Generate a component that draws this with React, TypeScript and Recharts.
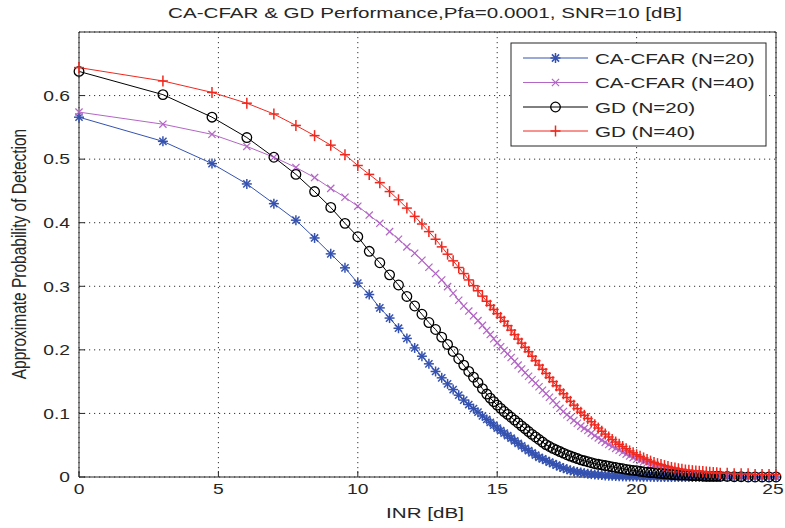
import { CartesianGrid, Line, LineChart, XAxis, YAxis } from "recharts";

// INR grid in dB (markers get denser towards the right like the original)
const inrDb = [
  0, 3.01, 4.77, 6.02, 6.99, 7.78, 8.45, 9.03, 9.54, 10, 10.41, 10.79, 11.14, 11.46, 11.76, 12.04, 12.3, 12.55, 12.79, 13.01,
  13.22, 13.42, 13.62, 13.8, 13.98, 14.15, 14.31, 14.47,
  14.625, 14.75, 14.875,
  15, 15.125, 15.25, 15.375, 15.5, 15.625, 15.75, 15.875,
  16, 16.125, 16.25, 16.375, 16.5, 16.625, 16.75, 16.875,
  17, 17.125, 17.25, 17.375, 17.5, 17.625, 17.75, 17.875,
  18, 18.125, 18.25, 18.375, 18.5, 18.625, 18.75, 18.875,
  19, 19.125, 19.25, 19.375, 19.5, 19.625, 19.75, 19.875,
  20, 20.125, 20.25, 20.375, 20.5, 20.625, 20.75, 20.875,
  21, 21.125, 21.25, 21.375, 21.5, 21.625, 21.75, 21.875,
  22, 22.125, 22.25, 22.375, 22.5, 22.625, 22.75, 22.875,
  23,
  23.25, 23.5, 23.75, 24, 24.25, 24.5, 24.75, 25,
];

const caN20 = [
  0.566, 0.528, 0.493, 0.461, 0.43, 0.404, 0.376, 0.351, 0.329, 0.305, 0.287, 0.266, 0.25, 0.234, 0.218, 0.203, 0.19, 0.178, 0.166, 0.156,
  0.1465, 0.1375, 0.1287, 0.121, 0.114, 0.1075, 0.102, 0.096,
  0.0905, 0.086, 0.0815,
  0.077, 0.073, 0.069, 0.065, 0.061, 0.057, 0.053, 0.049,
  0.045, 0.0415, 0.038, 0.0345, 0.031, 0.0285, 0.026, 0.0235,
  0.021, 0.0185, 0.016, 0.014, 0.012, 0.0105, 0.009, 0.008,
  0.007, 0.006, 0.005, 0.0045, 0.004, 0.0035, 0.003, 0.0025,
  0.002, 0.0018, 0.0015, 0.0012, 0.001, 0.0008, 0.0007, 0.0006,
  0.0005, 0.0004, 0.0003, 0.0002, 0.0002, 0.0001, 0.0001, 0,
  0, 0, 0, 0, 0, 0, 0, 0,
  0, 0, 0, 0, 0, 0, 0, 0,
  0,
  0, 0, 0, 0, 0, 0, 0, 0,
];

const caN40 = [
  0.574, 0.555, 0.539, 0.52, 0.503, 0.487, 0.471, 0.454, 0.44, 0.426, 0.412, 0.399, 0.386, 0.374, 0.362, 0.352, 0.341, 0.33, 0.32, 0.31,
  0.2995, 0.289, 0.278, 0.269, 0.261, 0.2535, 0.246, 0.2385,
  0.2305, 0.224, 0.2175,
  0.211, 0.205, 0.199, 0.1935, 0.188, 0.182, 0.176, 0.17,
  0.164, 0.1585, 0.153, 0.1475, 0.142, 0.1365, 0.131, 0.1255,
  0.12, 0.114, 0.108, 0.103, 0.098, 0.0935, 0.089, 0.0845,
  0.08, 0.0765, 0.073, 0.069, 0.065, 0.0615, 0.058, 0.0545,
  0.051, 0.048, 0.045, 0.042, 0.039, 0.036, 0.033, 0.0305,
  0.028, 0.026, 0.024, 0.022, 0.02, 0.018, 0.016, 0.0145,
  0.013, 0.012, 0.011, 0.01, 0.009, 0.008, 0.007, 0.0065,
  0.006, 0.0055, 0.005, 0.0045, 0.004, 0.0035, 0.003, 0.003,
  0.003,
  0.002, 0.002, 0.002, 0.001, 0.001, 0.001, 0.001, 0.001,
];

const gdN20 = [
  0.638, 0.6015, 0.566, 0.534, 0.503, 0.476, 0.449, 0.424, 0.399, 0.378, 0.355, 0.337, 0.318, 0.302, 0.284, 0.269, 0.256, 0.243, 0.232, 0.22,
  0.2085, 0.1975, 0.186, 0.176, 0.166, 0.157, 0.1485, 0.139,
  0.1305, 0.124, 0.1185,
  0.113, 0.108, 0.103, 0.0985, 0.094, 0.0895, 0.085, 0.0805,
  0.076, 0.0715, 0.067, 0.063, 0.059, 0.055, 0.051, 0.048,
  0.045, 0.0425, 0.04, 0.0375, 0.035, 0.033, 0.031, 0.029,
  0.027, 0.0255, 0.024, 0.0225, 0.021, 0.02, 0.019, 0.018,
  0.017, 0.016, 0.015, 0.014, 0.013, 0.012, 0.011, 0.0105,
  0.01, 0.009, 0.008, 0.0075, 0.007, 0.0065, 0.006, 0.0055,
  0.005, 0.0045, 0.004, 0.0035, 0.003, 0.003, 0.003, 0.0025,
  0.002, 0.002, 0.002, 0.0015, 0.001, 0.001, 0.001, 0.001,
  0.001,
  0.001, 0.0005, 0.0005, 0, 0, 0, 0, 0,
];

const gdN40 = [
  0.644, 0.623, 0.605, 0.588, 0.571, 0.553, 0.537, 0.522, 0.507, 0.49, 0.476, 0.463, 0.449, 0.436, 0.423, 0.41, 0.398, 0.386, 0.374, 0.362,
  0.3505, 0.34, 0.3295, 0.32, 0.31, 0.301, 0.293, 0.2845,
  0.2765, 0.27, 0.2635,
  0.257, 0.251, 0.245, 0.238, 0.231, 0.224, 0.217, 0.2105,
  0.204, 0.197, 0.19, 0.183, 0.176, 0.1695, 0.163, 0.1565,
  0.15, 0.1435, 0.137, 0.131, 0.125, 0.119, 0.113, 0.1075,
  0.102, 0.097, 0.092, 0.087, 0.082, 0.077, 0.072, 0.0675,
  0.063, 0.059, 0.055, 0.0515, 0.048, 0.0445, 0.041, 0.038,
  0.035, 0.0325, 0.03, 0.0275, 0.025, 0.023, 0.021, 0.0195,
  0.018, 0.0165, 0.015, 0.014, 0.013, 0.012, 0.011, 0.0105,
  0.01, 0.0095, 0.009, 0.0085, 0.008, 0.0075, 0.007, 0.0065,
  0.006,
  0.006, 0.005, 0.005, 0.005, 0.004, 0.004, 0.004, 0.004,
];

const xTicks = [0, 5, 10, 15, 20, 25];
const yTicks = [0, 0.1, 0.2, 0.3, 0.4, 0.5, 0.6];

const series = [
  { key: "caN20", name: "CA-CFAR (N=20)", color: "#3552b0", marker: "star" },
  { key: "caN40", name: "CA-CFAR (N=40)", color: "#b466c6", marker: "x" },
  { key: "gdN20", name: "GD (N=20)", color: "#000000", marker: "circle" },
  { key: "gdN40", name: "GD (N=40)", color: "#f0281e", marker: "plus" },
];

const data = inrDb.map((x, i) => ({
  x,
  caN20: caN20[i],
  caN40: caN40[i],
  gdN20: gdN20[i],
  gdN40: gdN40[i],
}));

const FONT = '"Liberation Sans", Arial, sans-serif';
const SX = 1.33; // the original figure is stretched horizontally
const INK = "#262626";

function Marker({ type, cx, cy, color }: { type: string; cx: number; cy: number; color: string }) {
  if (type === "circle") return <circle cx={cx} cy={cy} r={4.8} fill="none" stroke={color} strokeWidth={1.3} />;
  if (type === "plus")
    return (
      <g stroke={color} strokeWidth={1.5}>
        <line x1={cx - 5} y1={cy} x2={cx + 5} y2={cy} />
        <line x1={cx} y1={cy - 5.5} x2={cx} y2={cy + 5.5} />
      </g>
    );
  if (type === "x")
    return (
      <g stroke={color} strokeWidth={1.2}>
        <line x1={cx - 3.6} y1={cy - 3.6} x2={cx + 3.6} y2={cy + 3.6} />
        <line x1={cx - 3.6} y1={cy + 3.6} x2={cx + 3.6} y2={cy - 3.6} />
      </g>
    );
  return (
    <g stroke={color} strokeWidth={1.5}>
      <line x1={cx - 5} y1={cy} x2={cx + 5} y2={cy} />
      <line x1={cx} y1={cy - 5} x2={cx} y2={cy + 5} />
      <line x1={cx - 3.6} y1={cy - 3.6} x2={cx + 3.6} y2={cy + 3.6} />
      <line x1={cx - 3.6} y1={cy + 3.6} x2={cx + 3.6} y2={cy - 3.6} />
    </g>
  );
}

function BottomTick({ x, y, payload }: any) {
  // the last label sits a little inside the frame, as in the original
  const shift = payload.value === 25 ? -3 : 0;
  return (
    <text transform={`translate(${x + shift},${y}) scale(${SX},1)`} textAnchor="middle" dy="0.71em" fontSize={14.5} fill={INK} fontFamily={FONT}>
      {payload.value}
    </text>
  );
}

function LeftTick({ x, y, payload }: any) {
  return (
    <text transform={`translate(${x},${y}) scale(${SX},1)`} textAnchor="end" dy="0.36em" fontSize={14.5} fill={INK} fontFamily={FONT}>
      {payload.value}
    </text>
  );
}

const rowY = [58, 82.5, 107, 131];

export default function App() {
  return (
    <div style={{ position: "absolute", left: 0, top: 0, width: 785, height: 528, background: "#fff" }}>
      <LineChart width={785} height={528} data={data} margin={{ top: 31, right: 8, bottom: 0, left: 0 }}>
        <CartesianGrid stroke="#333" strokeDasharray="1.2 3.8" />
        <XAxis
          dataKey="x"
          type="number"
          domain={[0, 25]}
          ticks={xTicks}
          interval={0}
          height={51}
          tickSize={-6}
          tickMargin={13}
          tick={<BottomTick />}
          axisLine={{ stroke: INK }}
          tickLine={{ stroke: INK }}
        />
        <XAxis
          xAxisId="top"
          orientation="top"
          dataKey="x"
          type="number"
          domain={[0, 25]}
          ticks={xTicks}
          interval={0}
          height={1}
          tickSize={-6}
          tick={false}
          axisLine={{ stroke: INK }}
          tickLine={{ stroke: INK }}
        />
        <YAxis
          type="number"
          domain={[0, 0.7]}
          ticks={yTicks}
          interval={0}
          width={79}
          tickSize={-6}
          tickMargin={15}
          tick={<LeftTick />}
          axisLine={{ stroke: INK }}
          tickLine={{ stroke: INK }}
        />
        <YAxis
          yAxisId="right"
          orientation="right"
          type="number"
          domain={[0, 0.7]}
          ticks={yTicks}
          interval={0}
          width={1}
          tickSize={-6}
          tick={false}
          axisLine={{ stroke: INK }}
          tickLine={{ stroke: INK }}
        />
        {series.map((s) => (
          <Line
            key={s.key}
            dataKey={s.key}
            name={s.name}
            type="linear"
            stroke={s.color}
            strokeWidth={1}
            isAnimationActive={false}
            dot={(p: any) => <Marker key={`${s.key}-${p.index}`} type={s.marker} cx={p.cx} cy={p.cy} color={s.color} />}
            activeDot={false}
          />
        ))}
      </LineChart>

      <svg width={785} height={528} style={{ position: "absolute", left: 0, top: 0, pointerEvents: "none" }} fontFamily={FONT}>
        <text transform={`translate(425,12) scale(${SX},1)`} textAnchor="middle" dy="0.36em" fontSize={15.5} fill={INK}>
          CA-CFAR &amp; GD Performance,Pfa=0.0001, SNR=10 [dB]
        </text>
        <text transform={`translate(425,512) scale(${SX},1)`} textAnchor="middle" dy="0.36em" fontSize={15.5} fill={INK}>
          INR [dB]
        </text>
        <text transform={`translate(19,254) rotate(-90) scale(1,${SX})`} textAnchor="middle" dy="0.36em" fontSize={15.5} fill={INK}>
          Approximate Probability of Detection
        </text>

        <rect x={511} y={43} width={255} height={103} fill="#fff" stroke={INK} strokeWidth={1} />
        {series.map((s, i) => (
          <g key={s.key}>
            <line x1={523} y1={rowY[i]} x2={588} y2={rowY[i]} stroke={s.color} strokeWidth={1} />
            <Marker type={s.marker} cx={555.5} cy={rowY[i]} color={s.color} />
            <text transform={`translate(595,${rowY[i]}) scale(${SX},1)`} dy="0.36em" fontSize={15.5} fill={INK}>
              {s.name}
            </text>
          </g>
        ))}
      </svg>
    </div>
  );
}
